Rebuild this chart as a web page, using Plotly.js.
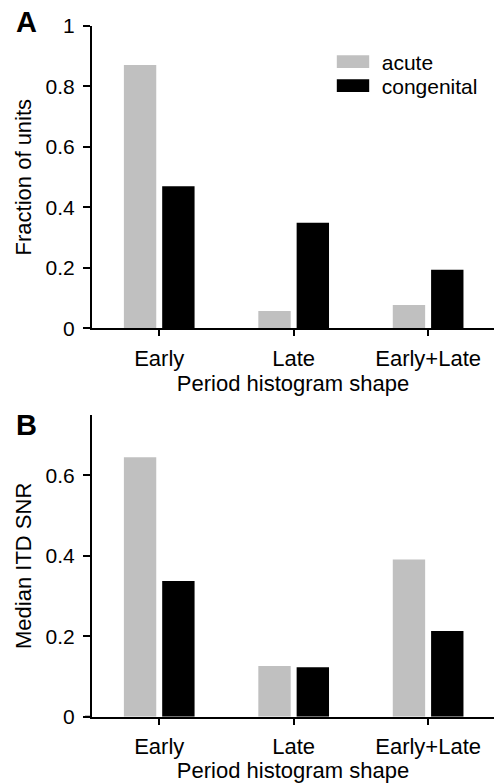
<!DOCTYPE html>
<html>
<head>
<meta charset="utf-8">
<script src="https://cdn.plot.ly/plotly-3.0.1.min.js"></script>
<style>html,body{margin:0;padding:0;background:#fff;}#chart{width:494px;height:783px;}</style>
</head>
<body>
<div id="chart"></div>
<script>
var categories = ["Early", "Late", "Early+Late"];
var fractionAcute = [0.871, 0.057, 0.077];
var fractionCongenital = [0.470, 0.349, 0.194];
var snrAcute = [0.645, 0.126, 0.391];
var snrCongenital = [0.337, 0.123, 0.213];
var seriesNames = ["acute", "congenital"];
var panelLabels = ["A", "B"];
var yTitles = ["Fraction of units", "Median ITD SNR"];
var xTitle = "Period histogram shape";

var GRAY = "#c0c0c0", BLACK = "#000000";
var FONT = "Liberation Sans, Arial, sans-serif";

var traces = [
  {type: "bar", x: categories, y: fractionAcute, name: seriesNames[0], xaxis: "x", yaxis: "y",
   marker: {color: GRAY, line: {width: 0}}, legend: "legend", hoverinfo: "none"},
  {type: "bar", x: categories, y: fractionCongenital, name: seriesNames[1], xaxis: "x", yaxis: "y",
   marker: {color: BLACK, line: {width: 0}}, legend: "legend2", hoverinfo: "none"},
  {type: "bar", x: categories, y: snrAcute, name: seriesNames[0], xaxis: "x2", yaxis: "y2",
   marker: {color: GRAY, line: {width: 0}}, showlegend: false, hoverinfo: "none"},
  {type: "bar", x: categories, y: snrCongenital, name: seriesNames[1], xaxis: "x2", yaxis: "y2",
   marker: {color: BLACK, line: {width: 0}}, showlegend: false, hoverinfo: "none"}
];

function xAxis(anchor) {
  return {
    anchor: anchor, type: "category", range: [-0.5, 2.49],
    showline: true, linecolor: "#000", linewidth: 2,
    ticks: "outside", ticklen: 6, tickwidth: 2, tickcolor: "#000",
    showgrid: false, zeroline: false, automargin: false, ticklabelstandoff: 3,
    tickfont: {family: FONT, size: 22, color: "#000"},
    title: {text: xTitle, font: {family: FONT, size: 22, color: "#000"}, standoff: 6}
  };
}
function yAxis(anchor, domain, range, title) {
  return {
    anchor: anchor, domain: domain, range: range, dtick: 0.2, tick0: 0,
    showline: true, linecolor: "#000", linewidth: 2,
    ticks: "outside", ticklen: 7, tickwidth: 2, tickcolor: "#000",
    showgrid: false, zeroline: false, automargin: false, ticklabelstandoff: 4,
    tickfont: {family: FONT, size: 21, color: "#000"},
    title: {text: title, font: {family: FONT, size: 22, color: "#000"}, standoff: 8}
  };
}

var layout = {
  width: 494, height: 783,
  margin: {l: 92, r: 0, t: 0, b: 0},
  paper_bgcolor: "#fff", plot_bgcolor: "#fff",
  font: {family: FONT, size: 22, color: "#000"},
  barmode: "group", bargap: 0.43, bargroupgap: 0.155,
  xaxis: xAxis("y"),
  yaxis: yAxis("x", [0.5807, 0.9668], [0, 1], yTitles[0]),
  xaxis2: xAxis("y2"),
  yaxis2: yAxis("x2", [0.0847, 0.4700], [0, 0.75], yTitles[1]),
  legend: {x: 0.5963, y: 0.9208, xanchor: "left", yanchor: "middle", bgcolor: "rgba(0,0,0,0)",
           font: {family: FONT, size: 21, color: "#000"}, itemwidth: 40},
  legend2: {x: 0.5963, y: 0.8902, xanchor: "left", yanchor: "middle", bgcolor: "rgba(0,0,0,0)",
           font: {family: FONT, size: 21, color: "#000"}, itemwidth: 40},
  shapes: [
    {type: "line", xref: "x domain", yref: "y", x0: -0.0174, x1: 0, y0: 0, y1: 0, line: {color: "#000", width: 2}},
    {type: "line", xref: "x2 domain", yref: "y2", x0: -0.0174, x1: 0, y0: 0, y1: 0, line: {color: "#000", width: 2}}
  ],
  annotations: [
    {text: "<b>" + panelLabels[0] + "</b>", xref: "paper", yref: "paper", x: -0.1945, y: 0.9949,
     xanchor: "left", yanchor: "top", showarrow: false, font: {family: FONT, size: 29, color: "#000"}},
    {text: "<b>" + panelLabels[1] + "</b>", xref: "paper", yref: "paper", x: -0.1945, y: 0.4802,
     xanchor: "left", yanchor: "top", showarrow: false, font: {family: FONT, size: 29, color: "#000"}}
  ]
};

// widen the legend swatches into the flat rectangles of the original figure
var SWATCH_CENTER_X = 353;
function widenSwatches(gd) {
  var host = gd.getBoundingClientRect();
  gd.querySelectorAll(".legendpoints path").forEach(function (p) {
    if (!p.hasAttribute("data-orig")) p.setAttribute("data-orig", p.getAttribute("transform") || "");
    var orig = p.getAttribute("data-orig");
    p.setAttribute("transform", orig);
    var r = p.getBoundingClientRect();
    var cx = r.left + r.width / 2 - host.left;
    var dx = SWATCH_CENTER_X - cx;
    p.setAttribute("transform", orig + " translate(" + dx.toFixed(2) + ",0) scale(2.7,1.05)");
  });
}

var gd = document.getElementById("chart");
Plotly.newPlot(gd, traces, layout, {staticPlot: true, displayModeBar: false}).then(function () {
  widenSwatches(gd);
  gd.on("plotly_afterplot", function () { widenSwatches(gd); });
});
</script>
</body>
</html>
